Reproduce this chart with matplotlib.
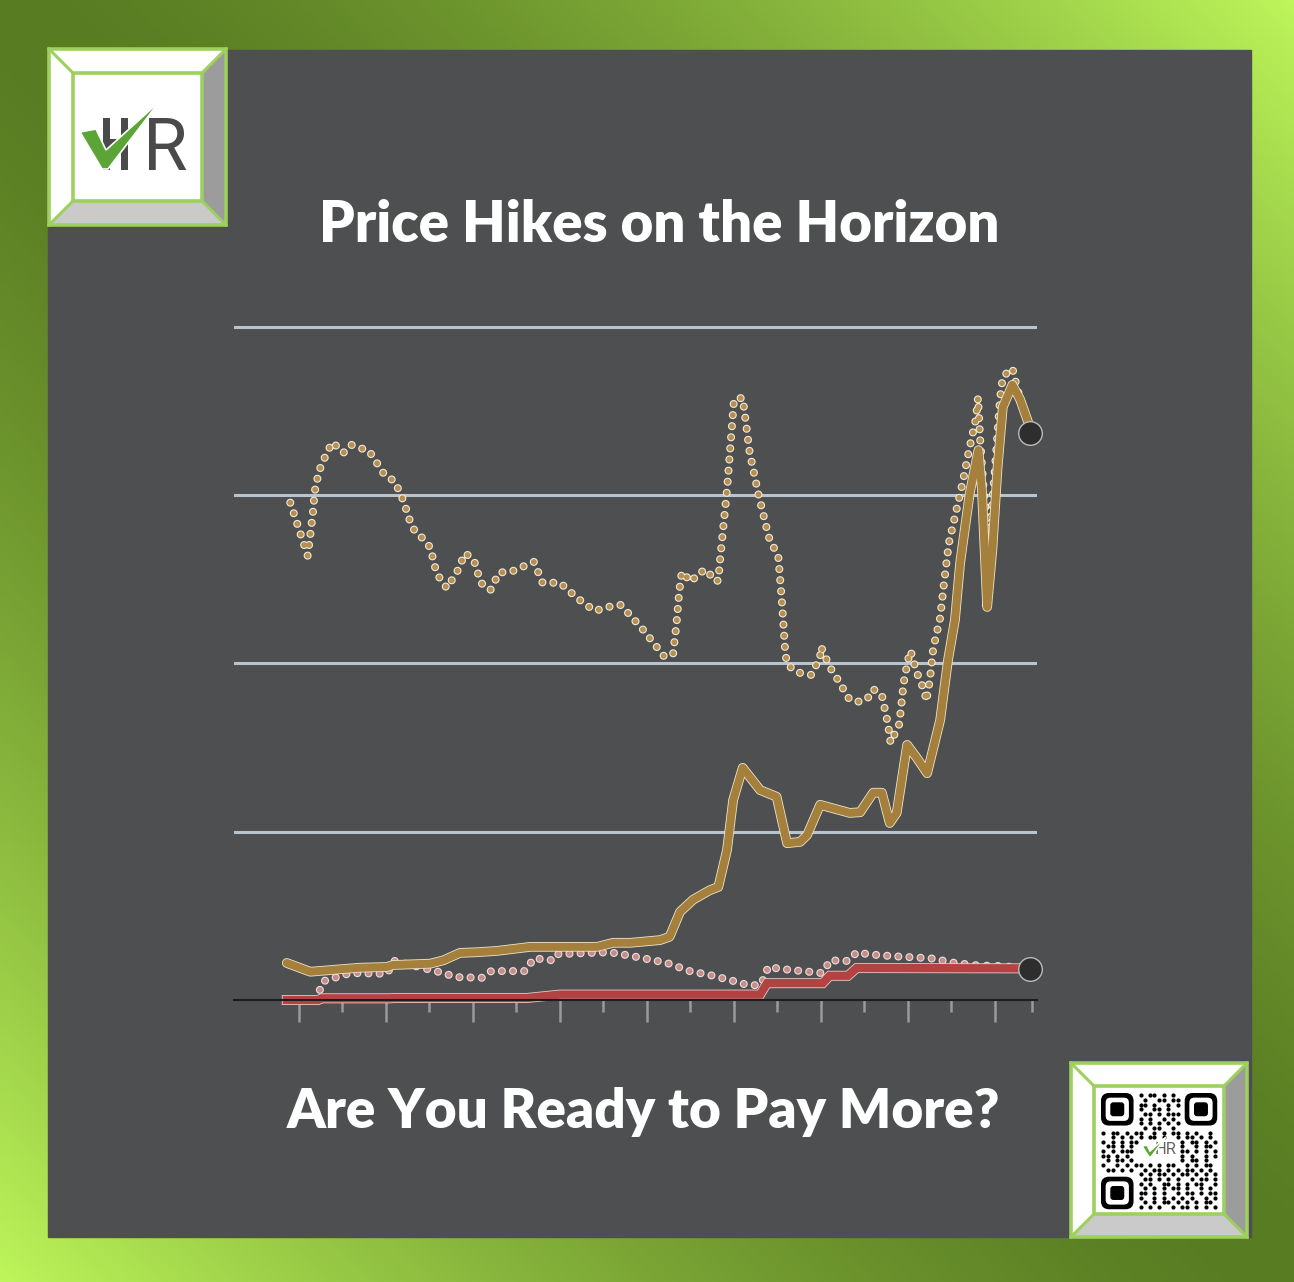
import numpy as np
import matplotlib
matplotlib.use('Agg')
import matplotlib.pyplot as plt
import matplotlib.patheffects as pe
from matplotlib.patches import Polygon, Rectangle, FancyBboxPatch
from matplotlib.colors import LinearSegmentedColormap

# ---- data (x = year, y = index points) ----
gold_years = [1938.6, 1941.3, 1947.0, 1950.1, 1950.8, 1955.1, 1956.6, 1958.5, 1960.5, 1962.8,
              1966.6, 1970.3, 1974.3, 1976.1, 1978.1, 1981.5, 1982.6, 1983.8, 1985.3, 1987.2,
              1988.2, 1989.2, 1989.9, 1991.0, 1993.0, 1994.9, 1996.1, 1997.6, 1998.4, 1999.9,
              2003.3, 2004.5, 2006.0, 2007.0, 2007.9, 2008.7, 2009.9, 2011.0, 2012.2, 2013.7,
              2014.6, 2015.4, 2016.0, 2017.1, 2018.1, 2018.5, 2019.1, 2019.7, 2020.3, 2020.9,
              2022.0, 2022.9, 2023.8]
gold_vals = [5.5, 4.2, 4.8, 4.9, 5.2, 5.4, 5.9, 7.0, 7.1, 7.3,
             7.9, 7.9, 7.9, 8.5, 8.5, 8.9, 9.4, 13.1, 14.9, 16.3,
             16.8, 22.3, 29.7, 34.5, 31.2, 30.2, 23.3, 23.5, 24.5, 29.0,
             27.8, 27.9, 30.8, 30.8, 26.3, 27.8, 37.9, 36.0, 33.7, 41.6,
             50.5, 56.5, 65.0, 75.3, 81.7, 75.8, 58.4, 66.9, 79.2, 88.1,
             91.4, 89.2, 85.9]

gold_real_years = [1939.0, 1941.0, 1941.3, 1941.6, 1941.8, 1942.3, 1942.8, 1943.3, 1943.9, 1944.5,
                   1945.1, 1946.0, 1947.0, 1948.0, 1948.6, 1949.9, 1951.0, 1952.0, 1952.8, 1953.3,
                   1954.3, 1955.1, 1955.7, 1956.2, 1957.0, 1958.2, 1959.1, 1960.1, 1960.9, 1962.0,
                   1963.0, 1964.5, 1967.0, 1968.0, 1970.0, 1972.0, 1974.0, 1975.5, 1977.0, 1979.7,
                   1982.0, 1983.0, 1983.4, 1983.7, 1984.0, 1985.1, 1985.9, 1987.0, 1987.6, 1988.2,
                   1988.4, 1989.2, 1990.0, 1991.0, 1991.8, 1992.8, 1994.0, 1995.1, 1995.5, 1995.9,
                   1996.1, 1997.2, 1998.9, 1999.9, 2000.0, 2001.0, 2001.7, 2003.3, 2004.5, 2005.3,
                   2006.0, 2007.0, 2007.7, 2008.0, 2009.0, 2009.5, 2010.0, 2010.3, 2011.0, 2011.9,
                   2012.1, 2012.5, 2012.9, 2013.7, 2014.1, 2014.7, 2015.5, 2016.3, 2017.0, 2017.8,
                   2018.05, 2018.3, 2018.7, 2019.3, 2019.9, 2020.6, 2020.9, 2022.0, 2022.6, 2023.4]
gold_real_vals = [73.9, 66.0, 69.1, 72.4, 75.5, 78.6, 80.1, 81.6, 82.9, 82.0,
                  81.3, 82.5, 82.0, 81.7, 80.5, 77.9, 77.1, 74.2, 71.0, 69.7,
                  68.5, 67.2, 64.0, 62.6, 61.2, 63.7, 66.4, 65.4, 62.0, 60.9,
                  63.5, 63.7, 65.1, 62.0, 62.0, 59.7, 57.8, 58.4, 58.7, 54.8,
                  51.0, 51.4, 56.0, 60.6, 63.6, 62.1, 63.5, 63.9, 62.3, 62.3,
                  65.4, 75.8, 89.2, 89.5, 81.4, 75.2, 68.8, 65.8, 59.4, 51.6,
                  49.9, 48.7, 48.3, 51.0, 52.5, 49.5, 48.1, 44.6, 44.3, 44.7,
                  46.2, 45.3, 41.0, 38.2, 41.0, 47.1, 50.5, 51.9, 48.7, 45.9,
                  44.4, 47.4, 52.2, 56.8, 61.5, 67.9, 72.4, 77.0, 81.6, 86.3,
                  89.5, 83.2, 75.8, 67.6, 77.3, 89.6, 92.6, 93.9, 90.6, 87.7]

red_years = [1938.6, 1942.2, 1942.6, 1950.5, 1950.9, 1966.2, 1970.0, 1993.0, 1993.8,
             2000.2, 2001.0, 2003.1, 2004.1, 2023.8]
red_vals = [0.0, 0.0, 0.25, 0.25, 0.3, 0.3, 0.8, 0.8, 2.5,
            2.5, 3.6, 3.6, 4.75, 4.7]

pink_years = [1942.4, 1942.8, 1945.9, 1950.1, 1951.0, 1956.6, 1958.0, 1961.0, 1962.1, 1966.0,
              1967.0, 1969.1, 1969.5, 1975.7, 1978.4, 1982.3, 1984.9, 1987.6, 1990.3, 1991.6,
              1993.0, 1993.6, 1993.9, 1995.5, 2000.1, 2000.7, 2001.0, 2003.1, 2003.6, 2004.1,
              2005.4, 2008.3, 2012.6, 2015.4, 2018.3, 2019.8, 2023.4]
pink_vals = [1.5, 2.8, 4.0, 3.9, 5.8, 4.0, 3.4, 3.3, 4.3, 4.3,
             6.2, 5.9, 6.8, 7.1, 6.5, 5.5, 4.3, 3.6, 2.7, 2.2,
             2.2, 3.6, 4.9, 4.6, 4.0, 5.1, 5.9, 5.8, 6.4, 7.1,
             6.8, 6.5, 6.2, 5.5, 5.1, 5.1, 4.8]

end_year = 2024.0
end_vals = [84.3, 4.6]

grid_vals = [25, 50, 75, 100]
major_ticks = [1940, 1950, 1960, 1970, 1980, 1990, 2000, 2010, 2020]
minor_ticks = [1945, 1955, 1965, 1975, 1985, 1995, 2005, 2015, 2024.2]

title = 'Price Hikes on the Horizon'
subtitle = 'Are You Ready to Pay More?'

# QR pattern (decoration only)
qr_top = ["#.##.#.#.", ".#..##.##", "##.#..#.#", "#..##.#..",
          ".##.#.###", "#.#..#.#.", "#.#.#.#.#", ".#.##..#."]
qr_mid = ["#.##.#.##..#.#.##.#.#..#.",
          "..#.#.#.#.##.#..#.##.#.#.",
          "#.#.#.##.........#.##.#.#",
          ".##.#.#..........#..#.##.",
          "#.#.###..........##.#.#.#",
          "##.#.#...........#.#..#.#",
          ".#.##.#..........#.##.#..",
          "#..#.#.##.#.#.##..#.#.##.",
          ".##.#.#..#.##.#.#.##.#.#."]
qr_bot = ["#.#.##.#.##.#.#.#", ".##.#.#.#..#.##.#", "#.#..##.#.#.##..#",
          ".#.#.#.##.#..#.#.", "##.#.#..#.##.#.##", "#..#.#.#.#.#..#.#",
          ".#.#.##.#.#.#.##.", "#.#.#..#.##.#.#.#"]

W, H = 1294, 1282
fig = plt.figure(figsize=(W / 100, H / 100), dpi=100)

# ---- background / decoration in pixel units ----
bg = fig.add_axes([0, 0, 1, 1])
gx, gy = np.meshgrid(np.linspace(0, 1, 300), np.linspace(0, 1, 300))
shade = np.abs(gx - gy) ** 1.5
frame_cmap = LinearSegmentedColormap.from_list('frame', ['#587c22', '#bdf55a'])
bg.imshow(shade, cmap=frame_cmap, extent=(0, W, H, 0), aspect='auto', vmin=0, vmax=1)
bg.set_xlim(0, W)
bg.set_ylim(H, 0)
bg.axis('off')
bg.add_patch(Rectangle((48, 50), 1203, 1187, color='#4e4f51'))

GREEN = '#9dd05e'


def bevel_box(x0, y0, x1, y1, inset):
    xi0, yi0, xi1, yi1 = x0 + inset, y0 + inset, x1 - inset, y1 - inset
    faces = [([(x0, y0), (x1, y0), (xi1, yi0), (xi0, yi0)], 'white'),
             ([(x0, y0), (xi0, yi0), (xi0, yi1), (x0, y1)], 'white'),
             ([(x1, y0), (x1, y1), (xi1, yi1), (xi1, yi0)], '#9c9c9c'),
             ([(x0, y1), (x1, y1), (xi1, yi1), (xi0, yi1)], '#cacaca')]
    for pts, c in faces:
        bg.add_patch(Polygon(pts, closed=True, fc=c, ec='none'))
    bg.add_patch(Rectangle((xi0, yi0), xi1 - xi0, yi1 - yi0, fc='white', ec='none'))
    bg.add_patch(Rectangle((x0, y0), x1 - x0, y1 - y0, fill=False, ec=GREEN, lw=2.6))
    bg.add_patch(Rectangle((xi0, yi0), xi1 - xi0, yi1 - yi0, fill=False, ec=GREEN, lw=2.6))
    for a, b in [((x0, y0), (xi0, yi0)), ((x1, y0), (xi1, yi0)),
                 ((x0, y1), (xi0, yi1)), ((x1, y1), (xi1, yi1))]:
        bg.plot([a[0], b[0]], [a[1], b[1]], color=GREEN, lw=2.2)


def check_mark(pts, color):
    bg.add_patch(Polygon(pts, closed=True, fc=color, ec='white', lw=1.2, zorder=5))


# logo top-left
bevel_box(49, 49, 226, 225, 24)
ink = '#4a4a4c'
bg.add_patch(Rectangle((103, 118), 7, 52, fc=ink, ec='none'))
bg.add_patch(Rectangle((121, 118), 7, 52, fc=ink, ec='none'))
bg.add_patch(Rectangle((103, 139), 25, 6, fc=ink, ec='none'))
bg.text(143, 170, 'R', color=ink, fontsize=52, family='Roboto', ha='left', va='baseline')
check_mark([(80, 132), (96, 129), (106, 150), (160, 101), (108, 169), (102, 169)], '#5aa535')

# QR box bottom-right
bevel_box(1071, 1063, 1247, 1237, 23)
qx0, qy0, m = 1101, 1093, 4.65
rows = (['.' * 8 + r + '.' * 8 for r in qr_top] + qr_mid + ['.' * 8 + r for r in qr_bot])
dx, dy = [], []
for i, row in enumerate(rows):
    for j, ch in enumerate(row[:25]):
        if ch == '#':
            dx.append(qx0 + (j + 0.5) * m)
            dy.append(qy0 + (i + 0.5) * m)
bg.scatter(dx, dy, s=9, color='black', linewidths=0)
for fi, fj in [(0, 0), (0, 18), (18, 0)]:
    fx, fy = qx0 + fj * m, qy0 + fi * m
    bg.add_patch(FancyBboxPatch((fx, fy), 7 * m, 7 * m, boxstyle='round,pad=0,rounding_size=8',
                                fc='black', ec='none'))
    bg.add_patch(FancyBboxPatch((fx + m, fy + m), 5 * m, 5 * m, boxstyle='round,pad=0,rounding_size=5',
                                fc='white', ec='none'))
    bg.add_patch(FancyBboxPatch((fx + 2 * m, fy + 2 * m), 3 * m, 3 * m, boxstyle='round,pad=0,rounding_size=3',
                                fc='black', ec='none'))
bg.text(1166, 1154, 'HR', color='#666666', fontsize=12, family='Roboto', ha='center', va='baseline')
check_mark([(1142, 1146), (1147, 1145), (1150, 1151), (1166, 1137), (1151, 1157), (1149, 1157)], '#5aa535')

# titles
bg.text(659, 242, title, color='white', fontsize=40.5, fontweight='heavy', family='Lato',
        ha='center', va='baseline')
bg.text(643, 1128, subtitle, color='white', fontsize=39.5, fontweight='heavy', family='Lato',
        ha='center', va='baseline')

# ---- chart ----
ax = fig.add_axes([234 / W, 1 - 1000 / H, 803 / W, 680 / H])
ax.patch.set_alpha(0)
ax.set_xlim(1932.53, 2024.83)
ax.set_ylim(0, 101.04)
for side in ['top', 'left', 'right']:
    ax.spines[side].set_visible(False)
ax.spines['bottom'].set_color('#1c1c1c')
ax.spines['bottom'].set_linewidth(1.5)
ax.set_yticks(grid_vals)
ax.set_yticklabels([])
ax.tick_params(axis='y', length=0)
ax.grid(axis='y', color='#b8c5ce', lw=2.2)
ax.set_axisbelow(True)
ax.set_xticks(major_ticks)
ax.set_xticks(minor_ticks, minor=True)
ax.set_xticklabels([])
ax.tick_params(axis='x', which='major', length=16, width=1.8, color='#9a9a9a', direction='out')
ax.tick_params(axis='x', which='minor', length=8.5, width=1.8, color='#9a9a9a', direction='out')

dot_style = (0, (0.01, 1.9))
ax.plot(gold_real_years, gold_real_vals, color='#b58f52', lw=4.2, linestyle=dot_style,
        dash_capstyle='round',
        path_effects=[pe.Stroke(linewidth=5.8, foreground='#f3ead8'), pe.Normal()])
ax.plot(pink_years, pink_vals, color='#c48d88', lw=4.2, linestyle=dot_style,
        dash_capstyle='round',
        path_effects=[pe.Stroke(linewidth=5.8, foreground='#efdede'), pe.Normal()])
ax.plot(red_years, red_vals, color='#b34343', lw=6.0, solid_joinstyle='miter', clip_on=False,
        path_effects=[pe.Stroke(linewidth=7.2, foreground='#e8c8c8'), pe.Normal()])
ax.plot(gold_years, gold_vals, color='#a5803c', lw=5.8, solid_joinstyle='round',
        solid_capstyle='round',
        path_effects=[pe.Stroke(linewidth=7.0, foreground='#efe4c9'), pe.Normal()])
ax.plot([end_year] * len(end_vals), end_vals, 'o', ms=17, color='#2e2e2e', mec='#bbbbbb',
        mew=1.0, clip_on=False, zorder=5)

fig.savefig('out.png', dpi=100)
